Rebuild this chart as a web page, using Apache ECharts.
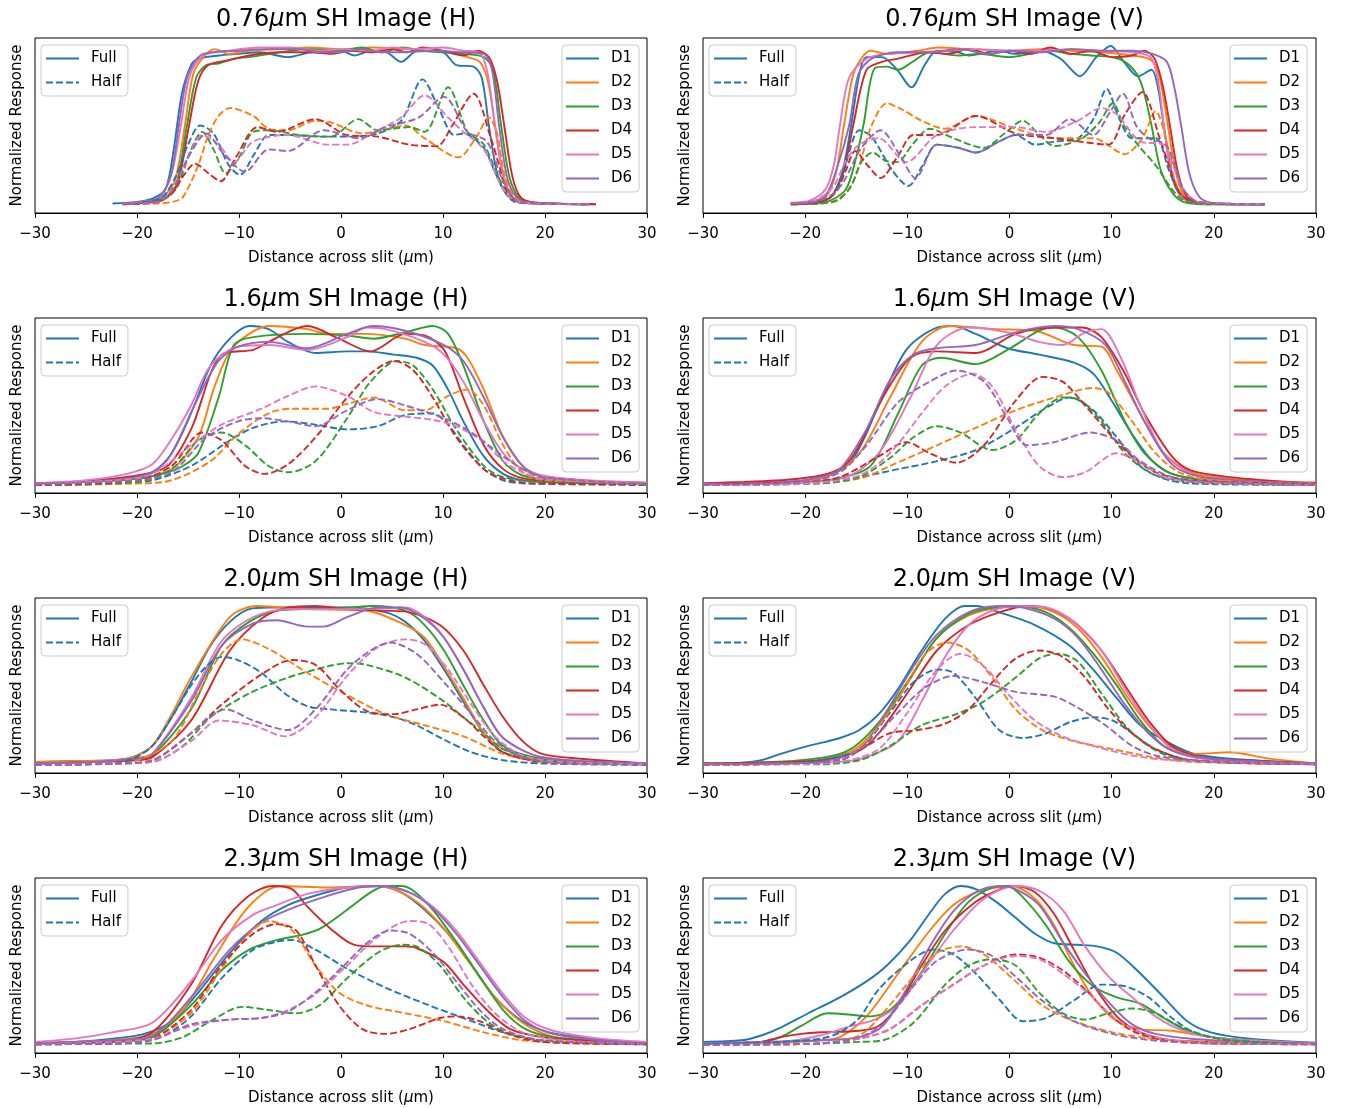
<!DOCTYPE html>
<html>
<head>
<meta charset="utf-8">
<script src="https://cdn.jsdelivr.net/npm/echarts@6/dist/echarts.min.js"></script>
<style>
html,body{margin:0;padding:0;background:#fff;}
#chart{width:1346px;height:1108px;}
</style>
</head>
<body>
<div id="chart"></div>
<script>
// ---------- categories / labels ----------
const detectors = ['D1','D2','D3','D4','D5','D6'];
const colors = ['#1f77b4','#ff7f0e','#2ca02c','#d62728','#e377c2','#9467bd'];
const wavelengths = ['0.76','1.6','2.0','2.3'];
const orients = ['H','V'];
const xTicks = [-30,-20,-10,0,10,20,30];

// ---------- 0.76um H ----------
const full076H = [
 [[-22.4,0.01],[-20,0.02],[-18.5,0.04],[-17.2,0.1],[-16.4,0.35],[-15.6,0.7],[-14.7,0.88],[-14,0.92],[-12,0.94],[-10,0.95],[-8,0.96],[-5.2,0.93],[-3,0.96],[0,0.97],[1.3,0.94],[3,0.97],[4.5,0.96],[5.9,0.9],[7.5,0.97],[10,0.96],[11.3,0.88],[13,0.87],[13.8,0.8],[14.5,0.5],[15.3,0.2],[16.2,0.07],[17.4,0.02],[20,0.01],[24.3,0.005]],
 [[-21.4,0.01],[-19,0.02],[-17.5,0.05],[-16.3,0.15],[-15.3,0.5],[-14.5,0.82],[-13.5,0.93],[-12.4,0.98],[-11,0.95],[-9,0.97],[-6,0.98],[-3,0.99],[0,0.98],[3,0.99],[6,0.98],[9,0.97],[11,0.96],[12.4,0.93],[13.6,0.9],[14.4,0.78],[15.1,0.5],[15.8,0.22],[16.6,0.07],[17.6,0.02],[20,0.01],[24.3,0.005]],
 [[-21.4,0.01],[-19,0.02],[-17.5,0.04],[-16.2,0.12],[-15.1,0.5],[-14.2,0.8],[-13.2,0.88],[-12,0.89],[-10.5,0.92],[-9,0.93],[-6,0.96],[-3,0.98],[0,0.97],[2,0.99],[4,0.96],[6,0.99],[8,0.97],[10,0.96],[12,0.95],[14,0.93],[14.9,0.85],[15.7,0.5],[16.5,0.18],[17.4,0.05],[18.5,0.02],[21,0.01],[24.3,0.005]],
 [[-21.4,0.005],[-19,0.015],[-17.5,0.03],[-16.1,0.12],[-14.9,0.5],[-14,0.78],[-13,0.88],[-11,0.91],[-9,0.94],[-6,0.96],[-3,0.96],[-1,0.95],[1,0.97],[3,0.96],[5,0.98],[6.5,0.96],[8,0.99],[10,0.97],[12,0.94],[13.4,0.97],[14.5,0.93],[15.3,0.78],[16,0.5],[16.8,0.18],[17.6,0.05],[19,0.015],[25,0.005]],
 [[-21.4,0.01],[-19.5,0.02],[-17.8,0.05],[-16.6,0.2],[-15.7,0.5],[-14.8,0.82],[-13.5,0.94],[-11,0.97],[-8,0.99],[-5,0.99],[-2,0.97],[0,0.98],[3,0.97],[5,0.99],[7,0.98],[10,0.99],[12,0.97],[13.5,0.96],[14.3,0.85],[15.1,0.5],[15.9,0.18],[16.8,0.05],[18,0.015],[24.3,0.005]],
 [[-21.4,0.01],[-19.5,0.02],[-17.8,0.05],[-16.7,0.18],[-15.9,0.5],[-15,0.82],[-13.5,0.95],[-10,0.97],[-7,0.98],[-4,0.98],[-2,0.96],[0,0.96],[2,0.98],[4,0.96],[6,0.96],[9,0.97],[12,0.96],[14,0.95],[14.8,0.85],[15.5,0.5],[16.3,0.17],[17.2,0.05],[18.5,0.015],[24.3,0.005]]
];
const half076H = [
 [[-21.4,0.01],[-19,0.02],[-17.5,0.05],[-16.2,0.18],[-15,0.38],[-13.8,0.5],[-12.5,0.45],[-11,0.25],[-9.9,0.19],[-8.5,0.32],[-7.1,0.44],[-5,0.44],[-2,0.43],[0.6,0.43],[3.6,0.45],[5.9,0.53],[8,0.79],[9.5,0.62],[11.1,0.44],[12,0.45],[14,0.36],[15,0.22],[15.9,0.1],[17,0.02],[19,0.01],[24.3,0.005]],
 [[-21.4,0.005],[-18,0.01],[-16.5,0.02],[-15.5,0.05],[-14,0.25],[-13,0.44],[-12,0.56],[-10.9,0.61],[-8.6,0.56],[-7.1,0.48],[-5.2,0.47],[-2.5,0.53],[-1,0.52],[2.1,0.45],[4,0.47],[6.3,0.5],[8.2,0.42],[11.5,0.3],[13.2,0.42],[14.5,0.55],[15.3,0.45],[16,0.2],[17,0.05],[18.5,0.01],[24.3,0.005]],
 [[-21.4,0.01],[-18,0.02],[-16.2,0.1],[-14.7,0.35],[-13.6,0.46],[-12.5,0.35],[-11.3,0.2],[-10,0.3],[-8.6,0.46],[-7.1,0.47],[-4,0.44],[-1,0.43],[1.7,0.54],[3.6,0.47],[6.7,0.49],[8.2,0.46],[10.5,0.74],[12.4,0.46],[14,0.38],[15.9,0.12],[17.4,0.02],[20,0.01],[24.3,0.005]],
 [[-21.4,0.005],[-18,0.02],[-16.5,0.08],[-15.5,0.18],[-14.3,0.26],[-13,0.2],[-11.8,0.15],[-10.3,0.3],[-8.2,0.49],[-6.3,0.46],[-2.5,0.54],[0.6,0.44],[3.6,0.43],[6.7,0.38],[9.4,0.37],[10.9,0.5],[13,0.7],[14.7,0.42],[15.5,0.25],[16.2,0.1],[17.4,0.02],[20,0.01],[25,0.005]],
 [[-21.4,0.01],[-18,0.02],[-16.5,0.1],[-15,0.3],[-13.6,0.44],[-12,0.38],[-10.5,0.27],[-8.6,0.4],[-5.2,0.44],[-1.3,0.38],[0.6,0.38],[3.6,0.47],[5.9,0.55],[8.2,0.69],[10.5,0.55],[12,0.46],[14,0.35],[15.9,0.1],[17.4,0.02],[20,0.01],[24.3,0.005]],
 [[-21.4,0.01],[-18,0.02],[-16.5,0.1],[-14.8,0.32],[-13.2,0.45],[-11.5,0.32],[-9.4,0.21],[-7.1,0.35],[-5.2,0.34],[-1.7,0.47],[1.7,0.42],[4.4,0.49],[7.6,0.55],[10.1,0.68],[12.4,0.46],[14.3,0.4],[15.9,0.15],[17.4,0.02],[20,0.01],[24.3,0.005]]
];

// ---------- 0.76um V ----------
const full076V = [
 [[-21.4,0.01],[-19,0.02],[-17.5,0.05],[-16.4,0.2],[-15.5,0.5],[-14.7,0.82],[-14,0.93],[-12.5,0.93],[-11,0.85],[-9.6,0.74],[-8.3,0.88],[-7.1,0.97],[-5,0.96],[-4,0.94],[-1,0.97],[0.6,0.95],[3,0.97],[5,0.92],[6.9,0.81],[8.5,0.93],[9.9,1.0],[11.2,0.9],[12.6,0.81],[13.9,0.85],[14.5,0.75],[15.1,0.5],[15.9,0.2],[17,0.05],[18.5,0.01],[25,0.005]],
 [[-21.4,0.01],[-19.5,0.02],[-18,0.05],[-17,0.2],[-16.2,0.5],[-15.3,0.82],[-14.4,0.93],[-13.6,0.97],[-12,0.95],[-9,0.97],[-7,0.99],[-4,0.98],[0,0.97],[3,0.98],[6,0.97],[9,0.96],[12,0.94],[13.9,0.91],[14.7,0.8],[15.5,0.5],[16.3,0.2],[17.2,0.05],[19,0.01],[25,0.005]],
 [[-21.4,0.005],[-19,0.01],[-17.5,0.03],[-16,0.1],[-15,0.3],[-14.3,0.5],[-13.2,0.86],[-12,0.87],[-10.9,0.85],[-9.5,0.9],[-7.8,0.96],[-5,0.94],[-3,0.95],[0,0.93],[2,0.95],[4,0.97],[6,0.95],[8,0.94],[10,0.93],[11.3,0.9],[12.5,0.82],[13.2,0.7],[13.9,0.5],[14.8,0.22],[15.9,0.08],[17,0.02],[19,0.005],[25,0.005]],
 [[-21.4,0.01],[-19,0.02],[-17.5,0.05],[-16.3,0.2],[-15.3,0.5],[-14,0.85],[-12.5,0.9],[-10.9,0.92],[-8,0.96],[-6,0.95],[-4,0.98],[-2,0.95],[0,0.97],[2,0.95],[4,0.99],[6,0.95],[8,0.97],[10,0.93],[12,0.94],[13.2,0.97],[14.2,0.92],[15,0.75],[15.7,0.5],[16.5,0.2],[17.4,0.05],[19,0.01],[25,0.005]],
 [[-21.4,0.015],[-19.5,0.03],[-18,0.1],[-17.2,0.25],[-16.6,0.5],[-15.7,0.8],[-14,0.92],[-12,0.95],[-9,0.96],[-6,0.97],[-3,0.98],[0,0.97],[3,0.97],[6,0.98],[9,0.97],[12,0.96],[13.8,0.93],[14.5,0.8],[15.1,0.5],[15.8,0.2],[16.8,0.05],[18.5,0.01],[25,0.005]],
 [[-21.4,0.01],[-19.5,0.02],[-18,0.06],[-16.8,0.25],[-15.7,0.5],[-14.8,0.82],[-13.5,0.92],[-11,0.96],[-8,0.96],[-5,0.98],[-2,0.95],[0,0.97],[3,0.96],[6,0.98],[9,0.97],[12,0.97],[14,0.95],[15.4,0.9],[16.1,0.75],[16.8,0.5],[17.6,0.2],[18.6,0.05],[20,0.01],[25,0.005]]
];
const half076V = [
 [[-21.4,0.005],[-19,0.02],[-17.5,0.05],[-16.3,0.2],[-14.7,0.47],[-13.5,0.43],[-11.5,0.22],[-9.9,0.12],[-8.5,0.25],[-7.1,0.38],[-5,0.36],[-3.3,0.33],[-1,0.4],[0.6,0.44],[2.5,0.38],[4.5,0.4],[6.7,0.42],[8.3,0.55],[9.5,0.73],[10.7,0.55],[12,0.42],[14.3,0.42],[15.6,0.22],[16.6,0.08],[18,0.02],[25,0.005]],
 [[-21.4,0.005],[-18.5,0.01],[-17,0.03],[-15.7,0.1],[-14.7,0.25],[-13.5,0.5],[-12,0.64],[-10.5,0.6],[-8.6,0.53],[-6.3,0.48],[-3.3,0.56],[0.6,0.48],[4.4,0.42],[8.2,0.42],[11.3,0.32],[13,0.42],[14.3,0.59],[15.3,0.42],[16.2,0.15],[17.4,0.03],[19,0.01],[25,0.005]],
 [[-21.4,0.005],[-18.5,0.01],[-16.8,0.03],[-15.5,0.12],[-14.5,0.27],[-13.4,0.33],[-12.2,0.28],[-11,0.27],[-9.5,0.38],[-7.8,0.48],[-5.5,0.42],[-2.5,0.36],[-0.5,0.45],[1.3,0.53],[2.8,0.45],[4.4,0.37],[7.1,0.42],[8.8,0.52],[10.1,0.64],[11.2,0.5],[12.8,0.36],[14.3,0.25],[15.9,0.1],[17,0.03],[19,0.005],[25,0.005]],
 [[-21.4,0.005],[-18.5,0.02],[-17,0.08],[-16,0.22],[-15.1,0.34],[-13.9,0.25],[-12.6,0.17],[-11,0.3],[-9.4,0.44],[-7.1,0.44],[-3.3,0.56],[0.6,0.45],[4.4,0.42],[6.7,0.4],[9.7,0.38],[11.3,0.57],[13,0.71],[14.7,0.42],[15.6,0.25],[16.6,0.08],[18,0.02],[25,0.005]],
 [[-21.4,0.01],[-19,0.03],[-17.2,0.12],[-16,0.28],[-14.7,0.38],[-12.8,0.42],[-10.1,0.27],[-7.1,0.44],[-3.3,0.49],[0.6,0.49],[3.6,0.46],[6.7,0.53],[9,0.61],[10.5,0.57],[12.8,0.4],[15.1,0.38],[16,0.25],[17,0.1],[18.5,0.02],[25,0.005]],
 [[-21.4,0.01],[-19,0.02],[-17.3,0.07],[-16.2,0.15],[-14.5,0.36],[-12.6,0.47],[-10.8,0.32],[-9.2,0.17],[-7.1,0.38],[-5,0.36],[-3.3,0.33],[-1,0.4],[0.6,0.44],[3.6,0.44],[5.9,0.54],[8.2,0.44],[9.8,0.58],[11.1,0.7],[12.4,0.5],[13.6,0.42],[15.3,0.38],[16.3,0.22],[17,0.1],[18.5,0.02],[25,0.005]]
];

// ---------- 1.6um H ----------
const full16H = [
 [[-30,0.01],[-25,0.02],[-20.4,0.05],[-18.5,0.08],[-16.6,0.2],[-14.7,0.45],[-12.8,0.75],[-10.9,0.92],[-9,1.0],[-7.1,0.98],[-5.2,0.9],[-2.5,0.83],[0.6,0.84],[2.5,0.84],[5.2,0.82],[7.4,0.8],[9,0.75],[10.5,0.6],[12,0.4],[14,0.18],[15.9,0.07],[17.8,0.03],[22,0.015],[30,0.01]],
 [[-30,0.01],[-25,0.02],[-20,0.04],[-16.6,0.1],[-14,0.3],[-12.5,0.6],[-10.9,0.84],[-9,0.95],[-7.1,1.0],[-3.3,0.98],[-1.3,0.95],[2.5,0.95],[6.3,0.92],[8.2,0.88],[11.3,0.86],[12.4,0.8],[14,0.6],[15.9,0.3],[17.8,0.12],[19.7,0.06],[23.5,0.03],[30,0.015]],
 [[-30,0.01],[-25,0.02],[-20,0.04],[-17,0.08],[-15.5,0.12],[-14,0.2],[-12,0.55],[-10.5,0.88],[-8.6,0.93],[-3.3,0.95],[0.6,0.94],[3.2,0.92],[6.3,0.96],[9,1.0],[10.5,0.95],[12,0.75],[14,0.4],[15.9,0.15],[17.8,0.06],[21,0.03],[30,0.01]],
 [[-30,0.01],[-25,0.025],[-20,0.06],[-17,0.12],[-14.7,0.35],[-11.7,0.82],[-8.6,0.85],[-7.1,0.9],[-3.3,1.0],[-0.2,0.92],[2.9,0.84],[6.3,0.95],[8.2,0.94],[10.1,0.85],[12,0.55],[14,0.25],[15.9,0.1],[18,0.04],[22,0.02],[30,0.01]],
 [[-30,0.01],[-25,0.03],[-21,0.07],[-18.5,0.13],[-16.5,0.3],[-14.7,0.5],[-12.8,0.75],[-10.1,0.87],[-7.1,0.88],[-3.3,0.85],[0.6,0.93],[2.5,0.99],[4.4,0.98],[8.2,0.9],[10.1,0.82],[12,0.65],[14,0.4],[15.9,0.2],[17.8,0.1],[19.7,0.06],[24,0.03],[30,0.015]],
 [[-30,0.01],[-25,0.02],[-20,0.05],[-18,0.1],[-16.6,0.2],[-14,0.55],[-12,0.78],[-10.1,0.87],[-7.1,0.9],[-3.3,0.86],[0.6,0.95],[3.2,1.0],[6.3,0.97],[10.1,0.88],[12,0.78],[14,0.55],[15.9,0.3],[17.8,0.12],[19.7,0.05],[24,0.02],[30,0.01]]
];
const half16H = [
 [[-30,0.0],[-22,0.01],[-18.5,0.03],[-14.7,0.12],[-10.9,0.28],[-8.6,0.36],[-5.5,0.4],[-2.5,0.38],[0.6,0.35],[3.6,0.37],[6.3,0.44],[9,0.45],[10.5,0.38],[12,0.25],[14,0.1],[15.9,0.03],[18,0.01],[30,0.0]],
 [[-30,0.0],[-20,0.01],[-16.6,0.03],[-12.8,0.15],[-10.1,0.32],[-7.1,0.45],[-4.8,0.48],[-1.3,0.48],[0.6,0.51],[3.2,0.55],[6.3,0.47],[8.2,0.47],[10.5,0.56],[12.4,0.6],[14,0.5],[15.9,0.25],[17.8,0.08],[20,0.03],[30,0.01]],
 [[-30,0.0],[-20,0.02],[-16.6,0.1],[-14,0.28],[-11.7,0.33],[-9.4,0.25],[-7.1,0.12],[-5.2,0.08],[-2.5,0.15],[0.6,0.42],[2.9,0.65],[5.5,0.78],[7.1,0.75],[9,0.6],[11.3,0.35],[14,0.12],[15.9,0.05],[19.7,0.02],[30,0.005]],
 [[-30,0.0],[-20,0.03],[-16.6,0.12],[-13.6,0.33],[-11.7,0.28],[-9.4,0.12],[-7.5,0.07],[-5.2,0.13],[-2.5,0.3],[0.6,0.55],[2.9,0.7],[5.2,0.78],[7.1,0.72],[9,0.55],[11.3,0.3],[14,0.1],[15.9,0.04],[19,0.01],[30,0.005]],
 [[-30,0.005],[-22,0.03],[-18.5,0.07],[-14.7,0.25],[-11.7,0.38],[-7.8,0.48],[-5.2,0.56],[-2.5,0.62],[0.6,0.56],[3.2,0.46],[6.3,0.43],[9,0.41],[11.3,0.37],[14,0.27],[15.9,0.15],[17.8,0.08],[19.7,0.04],[30,0.005]],
 [[-30,0.005],[-20,0.03],[-16.6,0.08],[-13.2,0.3],[-10.1,0.4],[-7.8,0.42],[-5.2,0.4],[-2.5,0.37],[0.6,0.47],[3.6,0.54],[6.3,0.5],[10.1,0.42],[12.8,0.33],[15.9,0.18],[17.8,0.1],[19.7,0.05],[30,0.005]]
];

// ---------- 1.6um V ----------
const full16V = [
 [[-30,0.01],[-22,0.02],[-18.5,0.04],[-15.5,0.15],[-12.8,0.5],[-10.1,0.85],[-7.1,0.99],[-5.5,1.0],[-3.3,0.95],[-0.2,0.86],[2.9,0.82],[6.3,0.77],[8.2,0.7],[10.1,0.52],[12,0.32],[14,0.15],[15.9,0.07],[19.7,0.03],[30,0.01]],
 [[-30,0.01],[-22,0.02],[-18,0.05],[-14.7,0.2],[-11.7,0.55],[-8.6,0.9],[-5.9,1.0],[-1.3,0.98],[2.5,0.97],[6.3,0.88],[9,0.87],[10.5,0.72],[12.8,0.45],[15.1,0.2],[17.8,0.08],[21.6,0.04],[27.3,0.02],[30,0.015]],
 [[-30,0.005],[-22,0.01],[-17,0.04],[-13.6,0.12],[-10.9,0.45],[-8.6,0.75],[-6.7,0.8],[-3.3,0.76],[-0.2,0.85],[2.9,0.97],[4.4,0.99],[6.7,0.93],[9,0.72],[11.3,0.4],[13.2,0.2],[15.9,0.07],[19.7,0.03],[30,0.01]],
 [[-30,0.01],[-26,0.02],[-22.4,0.03],[-18.5,0.06],[-16.2,0.12],[-14.7,0.25],[-12.4,0.55],[-9.7,0.8],[-7.1,0.84],[-3.3,0.83],[0.6,0.95],[4.4,0.99],[7.1,0.99],[9,0.93],[11.3,0.7],[13.2,0.45],[15.9,0.18],[17.8,0.09],[21.6,0.05],[27.3,0.02],[30,0.015]],
 [[-30,0.005],[-22,0.01],[-16,0.05],[-12.8,0.2],[-9.7,0.55],[-7.1,0.88],[-4,0.99],[-0.2,0.96],[2.9,0.9],[5.2,0.88],[7.4,0.96],[9,0.98],[10.9,0.8],[12.8,0.5],[15.1,0.2],[17.8,0.07],[21,0.03],[30,0.01]],
 [[-30,0.005],[-22,0.02],[-18.5,0.05],[-16.6,0.1],[-14,0.35],[-11.7,0.66],[-9.4,0.82],[-7.1,0.86],[-3.3,0.88],[0.6,0.96],[4.4,1.0],[6.7,0.98],[9.4,0.88],[11.3,0.65],[13.2,0.4],[15.9,0.13],[18.9,0.05],[30,0.01]]
];
const half16V = [
 [[-30,0.0],[-20,0.01],[-18.5,0.02],[-14.7,0.05],[-10.9,0.1],[-7.1,0.15],[-3.3,0.22],[0.6,0.36],[3.2,0.47],[5.9,0.55],[8.2,0.47],[10.5,0.3],[12.8,0.12],[15.1,0.04],[17.8,0.01],[30,0.0]],
 [[-30,0.0],[-20,0.01],[-14.7,0.04],[-11.7,0.12],[-7.1,0.25],[-3.3,0.36],[0.6,0.47],[4.4,0.55],[8.2,0.61],[9.7,0.58],[12,0.4],[14.3,0.2],[16.6,0.08],[19.7,0.03],[30,0.005]],
 [[-30,0.0],[-18.5,0.01],[-14.7,0.05],[-11.7,0.17],[-9.4,0.3],[-7.1,0.37],[-4.8,0.33],[-1.7,0.22],[0.6,0.28],[2.9,0.45],[5.2,0.55],[6.7,0.54],[9,0.4],[11.3,0.2],[14,0.07],[17.8,0.02],[30,0.0]],
 [[-30,0.0],[-20,0.02],[-16.6,0.05],[-12.8,0.18],[-10.1,0.27],[-7.8,0.2],[-5.2,0.14],[-2.5,0.25],[0.6,0.53],[3.2,0.68],[5.2,0.65],[7.4,0.5],[10.1,0.3],[12,0.18],[14.3,0.08],[17.8,0.03],[30,0.005]],
 [[-30,0.0],[-20,0.01],[-14.7,0.06],[-11.7,0.2],[-8.6,0.45],[-6.3,0.62],[-3.6,0.7],[-1.7,0.62],[0.6,0.35],[2.9,0.12],[5.2,0.05],[7.4,0.08],[10.5,0.2],[12.8,0.14],[15.1,0.05],[17.8,0.02],[30,0.0]],
 [[-30,0.0],[-20,0.02],[-16.6,0.08],[-14,0.25],[-10.9,0.52],[-7.8,0.65],[-5.2,0.72],[-2.5,0.65],[-0.2,0.42],[1.7,0.25],[4.4,0.27],[7.9,0.33],[10.5,0.28],[12.8,0.15],[15.9,0.05],[19.7,0.02],[30,0.0]]
];

// ---------- 2.0um H ----------
const full20H = [
 [[-30,0.02],[-26,0.025],[-22.4,0.03],[-20.4,0.05],[-18.5,0.12],[-16.6,0.3],[-14.7,0.52],[-12.8,0.75],[-10.9,0.9],[-9,0.98],[-7.1,0.99],[-3.3,0.99],[0.6,0.99],[4.4,0.96],[6.3,0.9],[8.2,0.78],[10.1,0.6],[12,0.4],[14,0.2],[15.9,0.08],[19.7,0.03],[30,0.01]],
 [[-30,0.02],[-26,0.025],[-22.4,0.03],[-20.4,0.05],[-18.5,0.12],[-16.6,0.32],[-14.7,0.55],[-10.9,0.93],[-8.2,1.0],[-3.3,0.98],[2.5,0.97],[6.3,0.88],[8.2,0.8],[10.1,0.62],[12,0.42],[14,0.2],[15.9,0.1],[19.7,0.04],[30,0.01]],
 [[-30,0.01],[-24,0.02],[-20.4,0.03],[-18.5,0.06],[-14.7,0.35],[-11.7,0.75],[-9,0.9],[-6.3,0.97],[-3.3,0.98],[0.6,0.99],[3.2,1.0],[6.3,0.97],[8.2,0.88],[10.1,0.72],[12,0.5],[14,0.28],[15.9,0.12],[19.7,0.04],[30,0.01]],
 [[-30,0.01],[-24,0.02],[-20.4,0.03],[-18.5,0.05],[-14.7,0.28],[-10.9,0.72],[-7.8,0.92],[-5.2,0.99],[-2.5,1.0],[0.6,0.98],[4.4,0.97],[6.7,0.96],[9.7,0.88],[12,0.72],[14,0.5],[15.9,0.3],[17.8,0.15],[19.7,0.07],[23.5,0.04],[30,0.01]],
 [[-30,0.01],[-24,0.02],[-20.4,0.04],[-18.5,0.07],[-14.7,0.42],[-11.7,0.78],[-8.6,0.93],[-5.2,0.98],[-1.3,0.98],[2.5,0.98],[6.3,0.99],[8.2,0.93],[10.1,0.8],[12,0.6],[14,0.36],[15.9,0.17],[19.7,0.05],[30,0.01]],
 [[-30,0.01],[-24,0.02],[-20.4,0.04],[-18.5,0.07],[-14.7,0.4],[-11.7,0.75],[-8.6,0.89],[-6.3,0.91],[-3.3,0.87],[-1.7,0.87],[0.6,0.93],[3.6,0.99],[5.9,0.99],[8.2,0.92],[10.1,0.8],[12,0.6],[14,0.36],[15.9,0.17],[19.7,0.05],[30,0.01]]
];
const half20H = [
 [[-30,0.0],[-22.4,0.01],[-20.4,0.04],[-18.5,0.12],[-16.6,0.3],[-14.7,0.5],[-13.2,0.62],[-11.7,0.68],[-10.1,0.66],[-7.8,0.58],[-5.5,0.45],[-3.3,0.37],[-1,0.35],[2.5,0.33],[5.2,0.3],[7.4,0.25],[10.1,0.16],[12.8,0.08],[15.9,0.03],[19.7,0.01],[30,0.0]],
 [[-30,0.0],[-22,0.01],[-20.4,0.02],[-16.6,0.15],[-14,0.45],[-11.7,0.7],[-9.7,0.79],[-7.1,0.73],[-3.3,0.58],[0.6,0.44],[4.4,0.32],[8.2,0.25],[12,0.18],[15.9,0.07],[19.7,0.02],[30,0.005]],
 [[-30,0.0],[-22,0.01],[-18.5,0.02],[-15.5,0.12],[-12.8,0.3],[-9,0.45],[-5.2,0.55],[-1.3,0.62],[0.6,0.64],[2.5,0.63],[6.3,0.55],[10.1,0.4],[12,0.3],[14,0.2],[15.9,0.1],[19.7,0.03],[30,0.005]],
 [[-30,0.0],[-22,0.01],[-18.5,0.03],[-14.7,0.2],[-11.7,0.38],[-7.8,0.57],[-4.8,0.66],[-2.5,0.63],[-0.2,0.48],[2.5,0.34],[5.2,0.32],[7.4,0.35],[9.7,0.38],[12,0.3],[14,0.18],[15.9,0.08],[19.7,0.02],[30,0.005]],
 [[-30,0.0],[-22,0.01],[-18.5,0.02],[-14.7,0.15],[-12,0.28],[-8.6,0.25],[-5.5,0.18],[-2.5,0.3],[0.6,0.56],[3.6,0.74],[6.3,0.79],[8.2,0.76],[10.5,0.6],[12.8,0.38],[15.1,0.18],[17.8,0.06],[21.6,0.02],[30,0.005]],
 [[-30,0.0],[-22,0.01],[-18.5,0.03],[-14.7,0.2],[-11.3,0.35],[-8.6,0.28],[-5.2,0.22],[-2.5,0.35],[0.6,0.6],[2.9,0.72],[4.8,0.77],[7.4,0.7],[10.1,0.52],[12.8,0.32],[15.1,0.15],[17.8,0.05],[22,0.01],[30,0.005]]
];

// ---------- 2.0um V ----------
const full20V = [
 [[-30,0.01],[-26.2,0.015],[-24.3,0.03],[-22.4,0.07],[-19.7,0.12],[-16.6,0.17],[-14.7,0.22],[-12.8,0.32],[-10.9,0.48],[-8.6,0.72],[-6.3,0.92],[-4.4,1.0],[-3.3,1.0],[-1,0.96],[2.5,0.88],[5.9,0.75],[8.2,0.6],[10.5,0.42],[12.8,0.25],[15.9,0.13],[18.1,0.07],[21.6,0.04],[30,0.01]],
 [[-30,0.01],[-25,0.015],[-20.4,0.02],[-16.6,0.06],[-14.7,0.12],[-12.8,0.25],[-10.1,0.5],[-7.1,0.8],[-4,0.94],[-1,0.99],[1.7,1.0],[4.4,0.96],[6.7,0.86],[9,0.68],[11.3,0.45],[13.6,0.25],[15.9,0.11],[18.1,0.07],[21.6,0.08],[25.4,0.04],[30,0.01]],
 [[-30,0.01],[-25,0.015],[-20.4,0.03],[-16.6,0.07],[-14.7,0.14],[-12.4,0.3],[-9.7,0.55],[-7.1,0.8],[-4,0.95],[-1.7,0.99],[0.6,1.0],[3.6,0.96],[5.9,0.86],[8.2,0.7],[10.5,0.5],[12.8,0.28],[15.1,0.12],[18.1,0.05],[22,0.03],[30,0.01]],
 [[-30,0.01],[-24,0.015],[-18.5,0.03],[-14.7,0.09],[-12.8,0.2],[-9.7,0.48],[-7.1,0.72],[-4,0.88],[-1,0.96],[1.7,1.0],[3.6,0.99],[6.3,0.9],[9,0.72],[11.3,0.5],[13.6,0.28],[15.9,0.12],[18.9,0.05],[23,0.03],[30,0.01]],
 [[-30,0.005],[-22,0.01],[-16.6,0.02],[-14,0.05],[-10.9,0.15],[-8.6,0.4],[-6.3,0.68],[-4,0.88],[-1.7,0.97],[0.6,1.0],[3.6,0.99],[6.3,0.9],[9,0.72],[11.3,0.48],[13.6,0.26],[15.9,0.1],[18.9,0.04],[30,0.01]],
 [[-30,0.005],[-22,0.01],[-18.5,0.02],[-14.7,0.1],[-12.4,0.3],[-9.4,0.62],[-7.1,0.82],[-4,0.96],[-1,1.0],[1.3,0.99],[4.4,0.92],[6.7,0.8],[9,0.6],[11.3,0.38],[13.6,0.2],[15.9,0.09],[19.7,0.04],[30,0.01]]
];
const half20V = [
 [[-30,0.0],[-22,0.01],[-18.5,0.03],[-14.7,0.1],[-11.7,0.33],[-9.4,0.52],[-7.1,0.6],[-5.5,0.58],[-3.3,0.42],[-1,0.22],[1.3,0.17],[3.6,0.2],[5.9,0.27],[8.2,0.3],[10.1,0.28],[12,0.2],[14.3,0.1],[17.8,0.03],[30,0.005]],
 [[-30,0.0],[-22,0.01],[-16.6,0.03],[-14,0.15],[-10.9,0.42],[-8.2,0.7],[-6.1,0.77],[-4,0.72],[-1.7,0.55],[0.6,0.35],[3.2,0.22],[6.3,0.15],[10.1,0.1],[14,0.05],[17.8,0.02],[30,0.005]],
 [[-30,0.0],[-22,0.005],[-18.5,0.005],[-14.7,0.03],[-11.7,0.12],[-8.6,0.25],[-5.2,0.32],[-2.5,0.4],[0.6,0.55],[2.9,0.67],[4.8,0.7],[6.7,0.65],[9,0.45],[11.3,0.25],[13.6,0.12],[15.9,0.05],[19.7,0.02],[30,0.005]],
 [[-30,0.0],[-22,0.01],[-16.6,0.03],[-14,0.12],[-11.7,0.2],[-9,0.22],[-6.3,0.26],[-4,0.35],[-1.7,0.52],[0.6,0.67],[2.9,0.72],[5.2,0.68],[7.4,0.55],[9.7,0.35],[12,0.2],[14.3,0.1],[17.8,0.03],[30,0.005]],
 [[-30,0.0],[-22,0.005],[-16.6,0.02],[-12.8,0.1],[-10.1,0.32],[-7.1,0.6],[-4.8,0.7],[-2.5,0.62],[-0.2,0.45],[2.5,0.28],[5.2,0.18],[8.2,0.12],[12,0.06],[15.9,0.03],[30,0.005]],
 [[-30,0.0],[-22,0.01],[-16.6,0.03],[-13.6,0.15],[-10.9,0.33],[-8.2,0.49],[-5.5,0.56],[-2.5,0.52],[0.6,0.46],[4.4,0.43],[6.7,0.36],[9.4,0.25],[12,0.12],[14.3,0.06],[17.8,0.03],[30,0.005]]
];

// ---------- 2.3um H ----------
const full23H = [
 [[-30,0.015],[-26.2,0.02],[-22.4,0.04],[-19.3,0.07],[-16.6,0.15],[-14,0.33],[-10.9,0.58],[-7.8,0.78],[-5.2,0.88],[-2.5,0.94],[0.6,0.99],[3.6,1.0],[5.9,0.96],[8.2,0.85],[10.5,0.7],[12.8,0.5],[15.1,0.3],[17.8,0.15],[20.4,0.08],[23.5,0.05],[30,0.01]],
 [[-30,0.01],[-26,0.02],[-22.4,0.03],[-18.5,0.07],[-15.5,0.22],[-12.4,0.55],[-9.7,0.82],[-7.5,0.96],[-5.9,1.0],[-1.3,0.99],[3.6,1.0],[5.9,0.96],[8.2,0.86],[10.5,0.7],[12.8,0.5],[15.1,0.3],[17.8,0.14],[20.4,0.06],[23.5,0.03],[30,0.01]],
 [[-30,0.01],[-26,0.015],[-22.4,0.02],[-18.5,0.05],[-14.7,0.25],[-11.7,0.47],[-9,0.6],[-6.3,0.66],[-4,0.69],[-2.1,0.73],[0.6,0.85],[2.9,0.96],[4.4,1.0],[5.9,1.0],[7.1,0.97],[9,0.85],[11.3,0.65],[13.6,0.43],[15.9,0.22],[18.1,0.1],[20.8,0.05],[25.4,0.03],[30,0.01]],
 [[-30,0.01],[-26,0.015],[-22.4,0.02],[-18.5,0.08],[-14.7,0.38],[-11.7,0.75],[-9,0.94],[-6.7,1.0],[-4.8,0.98],[-3.3,0.87],[-1,0.73],[1.3,0.63],[3.6,0.62],[6.3,0.62],[7.4,0.61],[10.1,0.52],[12,0.38],[14.3,0.22],[16.6,0.1],[19.7,0.05],[23.5,0.03],[30,0.01]],
 [[-30,0.02],[-26.2,0.04],[-22.4,0.08],[-18.5,0.14],[-14.7,0.4],[-11.7,0.66],[-8.6,0.82],[-6.3,0.88],[-3.3,0.95],[0.6,0.99],[3.6,1.0],[6.7,0.96],[9,0.87],[11.3,0.72],[13.6,0.52],[15.9,0.32],[18.1,0.17],[20.8,0.09],[25.4,0.04],[30,0.02]],
 [[-30,0.01],[-26,0.02],[-22.4,0.03],[-18.5,0.06],[-14.7,0.3],[-10.9,0.6],[-7.8,0.77],[-5.2,0.85],[-1.7,0.93],[1.7,0.99],[4,1.0],[6.7,0.96],[9,0.86],[11.3,0.7],[13.6,0.5],[15.9,0.3],[18.1,0.15],[20.8,0.07],[25.4,0.03],[30,0.01]]
];
const half23H = [
 [[-30,0.005],[-24,0.01],[-20.4,0.02],[-17.4,0.06],[-14.7,0.18],[-11.7,0.42],[-8.6,0.6],[-6.3,0.65],[-4.8,0.66],[-2.5,0.6],[0.6,0.48],[4.4,0.36],[8.2,0.26],[12,0.17],[15.9,0.08],[19.7,0.03],[30,0.005]],
 [[-30,0.005],[-22,0.01],[-18.5,0.04],[-14.7,0.2],[-11.7,0.48],[-9,0.7],[-7.1,0.78],[-4.8,0.72],[-2.5,0.5],[-0.2,0.33],[2.5,0.25],[6.3,0.2],[10.1,0.15],[14,0.08],[17.8,0.03],[23.5,0.01],[30,0.005]],
 [[-30,0.005],[-22,0.01],[-18.5,0.01],[-15.5,0.05],[-12.8,0.15],[-9.7,0.24],[-7.1,0.22],[-4.4,0.2],[-2.1,0.25],[0.6,0.42],[3.6,0.58],[5.9,0.63],[7.4,0.62],[9.7,0.5],[12,0.3],[14.3,0.15],[16.6,0.07],[19.7,0.03],[30,0.005]],
 [[-30,0.005],[-22,0.01],[-18.5,0.04],[-14.7,0.22],[-11.7,0.5],[-8.6,0.7],[-6.3,0.76],[-4.4,0.72],[-2.5,0.5],[-0.2,0.25],[2.1,0.1],[4.4,0.07],[6.7,0.1],[9.7,0.17],[11.3,0.18],[13.6,0.15],[15.9,0.08],[19.7,0.02],[30,0.005]],
 [[-30,0.005],[-26.2,0.01],[-22,0.02],[-18.5,0.04],[-14.7,0.12],[-10.9,0.16],[-7.8,0.17],[-5.2,0.22],[-2.5,0.32],[0.6,0.5],[3.6,0.68],[6.7,0.78],[8.6,0.76],[10.5,0.62],[12.8,0.38],[15.1,0.2],[17.8,0.08],[21.6,0.03],[30,0.005]],
 [[-30,0.005],[-22,0.01],[-18.5,0.03],[-14.7,0.13],[-10.9,0.16],[-7.8,0.17],[-5.2,0.21],[-2.5,0.33],[0.6,0.52],[2.9,0.66],[4.8,0.72],[6.7,0.7],[9,0.58],[11.3,0.4],[13.6,0.22],[15.9,0.1],[19.7,0.03],[30,0.005]]
];

// ---------- 2.3um V ----------
const full23V = [
 [[-30,0.02],[-26.2,0.03],[-24.3,0.06],[-22.4,0.11],[-19.7,0.2],[-16.6,0.3],[-14,0.4],[-12,0.5],[-9.7,0.66],[-7.8,0.83],[-6.3,0.95],[-4.8,1.0],[-3.3,0.98],[-1.3,0.9],[0.6,0.8],[2.5,0.7],[4.4,0.64],[6.7,0.63],[8.6,0.62],[10.5,0.58],[12.8,0.45],[15.1,0.3],[17.4,0.15],[19.7,0.08],[23.5,0.04],[30,0.015]],
 [[-30,0.01],[-24,0.01],[-20.4,0.02],[-18.5,0.03],[-16.6,0.05],[-14,0.18],[-10.9,0.45],[-7.8,0.72],[-5.5,0.88],[-3.3,0.96],[-1.3,0.99],[0.2,1.0],[2.5,0.92],[4.4,0.75],[6.3,0.5],[8.2,0.3],[10.5,0.15],[12.8,0.1],[15.9,0.09],[19.7,0.05],[23.5,0.03],[30,0.01]],
 [[-30,0.01],[-26,0.015],[-24.3,0.02],[-22.4,0.05],[-20.4,0.12],[-17.8,0.2],[-15.5,0.19],[-13.6,0.18],[-11.7,0.22],[-9,0.42],[-6.3,0.7],[-4,0.9],[-1.7,0.99],[-0.2,1.0],[1.3,0.93],[3.6,0.75],[5.9,0.52],[8.2,0.37],[10.5,0.3],[12.8,0.26],[15.1,0.17],[17.4,0.09],[19.7,0.05],[23.5,0.03],[30,0.01]],
 [[-30,0.01],[-26,0.015],[-24.3,0.02],[-22.4,0.05],[-20.4,0.07],[-18.5,0.08],[-14.7,0.09],[-12.8,0.12],[-10.9,0.25],[-8.6,0.5],[-6.3,0.72],[-3.3,0.9],[-0.9,0.98],[0.6,1.0],[2.5,0.96],[4.4,0.82],[6.3,0.6],[8.2,0.38],[10.5,0.18],[12.8,0.08],[15.9,0.03],[19.7,0.02],[30,0.01]],
 [[-30,0.01],[-26,0.015],[-22.4,0.02],[-18.5,0.06],[-15.5,0.12],[-13.2,0.16],[-10.9,0.25],[-8.6,0.45],[-5.5,0.72],[-2.5,0.92],[0.6,1.0],[2.9,0.97],[5.2,0.85],[7.4,0.62],[9.7,0.43],[12,0.3],[14.3,0.18],[16.6,0.1],[19.7,0.05],[23.5,0.03],[30,0.01]],
 [[-30,0.01],[-24,0.02],[-18.5,0.03],[-14.7,0.05],[-12.4,0.12],[-10.1,0.35],[-7.8,0.62],[-5.5,0.84],[-3.3,0.96],[-0.9,1.0],[0.6,0.98],[2.9,0.88],[5.2,0.65],[7.4,0.45],[9.7,0.27],[12,0.13],[14.3,0.07],[17.8,0.04],[23.5,0.02],[30,0.01]]
];
const half23V = [
 [[-30,0.005],[-22.4,0.02],[-18.5,0.04],[-16.6,0.08],[-14.7,0.17],[-12.8,0.35],[-9.7,0.53],[-7.5,0.6],[-5.5,0.57],[-3.3,0.45],[-0.9,0.28],[1.3,0.15],[3.6,0.17],[6.3,0.28],[9,0.38],[11.3,0.37],[13.6,0.3],[15.9,0.17],[18.1,0.08],[21.6,0.03],[30,0.005]],
 [[-30,0.0],[-22,0.005],[-18.5,0.01],[-14.7,0.06],[-12.4,0.2],[-9.4,0.43],[-7.1,0.58],[-4.8,0.62],[-2.5,0.57],[0.6,0.4],[3.2,0.25],[6.3,0.15],[10.1,0.08],[14,0.04],[19.7,0.02],[30,0.005]],
 [[-30,0.0],[-22,0.005],[-18.5,0.01],[-14.7,0.02],[-12.4,0.03],[-9.4,0.14],[-6.3,0.38],[-4,0.5],[-1.7,0.54],[0.6,0.5],[2.9,0.33],[5.2,0.2],[7.4,0.16],[9.7,0.2],[12,0.23],[14.3,0.2],[16.6,0.12],[19.7,0.05],[23.5,0.02],[30,0.005]],
 [[-30,0.0],[-22,0.005],[-18.5,0.01],[-14.7,0.04],[-11.7,0.1],[-8.6,0.25],[-5.5,0.38],[-2.5,0.5],[0.6,0.57],[2.9,0.55],[5.2,0.47],[7.4,0.35],[9.7,0.2],[12,0.09],[15.1,0.03],[19.7,0.01],[30,0.005]],
 [[-30,0.0],[-22,0.005],[-18.5,0.01],[-14.7,0.04],[-11.7,0.1],[-8.6,0.25],[-5.5,0.38],[-2.5,0.5],[0.6,0.56],[2.9,0.54],[5.2,0.45],[7.8,0.32],[10.1,0.18],[12.8,0.08],[15.9,0.03],[19.7,0.01],[30,0.005]],
 [[-30,0.0],[-22,0.005],[-18.5,0.01],[-14.7,0.05],[-12.4,0.13],[-9.4,0.37],[-7.1,0.53],[-4,0.6],[-1.7,0.56],[0.6,0.43],[3.2,0.28],[6.3,0.15],[10.1,0.07],[14,0.03],[19.7,0.01],[30,0.005]]
];

// ---------- layout ----------
const panelFull = [full076H, full076V, full16H, full16V, full20H, full20V, full23H, full23V];
const panelHalf = [half076H, half076V, half16H, half16V, half20H, half20V, half23H, half23V];
const FONT = 'DejaVu Sans';
const colLeft = [35, 703], colWidth = [612, 613];
const rowTop = [38, 318, 598, 878];
const plotH = 175;
const SMOOTH = 0.3;
const LW = 1.9;

const grids = [], xAxes = [], yAxes = [], titles = [], legends = [], series = [];
// proxy series for the Full/Half legend
series.push({type:'line', name:'Full', data:[], symbol:'none', xAxisIndex:0, yAxisIndex:0,
  lineStyle:{color:colors[0], width:LW, type:'solid'}, itemStyle:{color:colors[0]}});
series.push({type:'line', name:'Half', data:[], symbol:'none', xAxisIndex:0, yAxisIndex:0,
  lineStyle:{color:colors[0], width:LW, type:[7,3]}, itemStyle:{color:colors[0]}});

for (let p = 0; p < 8; p++) {
  const r = Math.floor(p / 2), c = p % 2;
  const left = colLeft[c], top = rowTop[r];
  grids.push({left:left, top:top, width:colWidth[c], height:plotH, show:true,
    borderColor:'#000', borderWidth:1, backgroundColor:'transparent'});
  xAxes.push({type:'value', gridIndex:p, min:-30, max:30, interval:10,
    axisLine:{show:true, onZero:false, lineStyle:{color:'#000', width:1}},
    axisTick:{show:true, inside:false, length:5, lineStyle:{color:'#000'}},
    axisLabel:{fontSize:15, color:'#000', fontFamily:FONT, margin:14,
      formatter:v => (v < 0 ? '\u2212' + Math.abs(v) : String(v))},
    splitLine:{show:false},
    name:'Distance across slit ({i|\u03bc}m)', nameLocation:'middle', nameGap:38,
    nameTextStyle:{fontSize:15, color:'#000', fontFamily:FONT,
      rich:{i:{fontStyle:'italic', fontSize:15, fontFamily:FONT, color:'#000'}}}});
  yAxes.push({type:'value', gridIndex:p, min:-0.05, max:1.05,
    axisLine:{show:false}, axisTick:{show:false}, axisLabel:{show:false}, splitLine:{show:false},
    name:'Normalized Response', nameLocation:'middle', nameGap:10, nameRotate:90,
    nameTextStyle:{fontSize:15, color:'#000', fontFamily:FONT}});
  titles.push({text:wavelengths[r] + '{i|\u03bc}m SH Image (' + orients[c] + ')',
    left:left + colWidth[c] / 2, textAlign:'center', top:top - 35,
    textStyle:{fontSize:24, fontWeight:'normal', color:'#000', fontFamily:FONT,
      rich:{i:{fontStyle:'italic', fontSize:24, fontFamily:FONT, color:'#000'}}}});
  const legendCommon = {orient:'vertical', itemWidth:33, itemHeight:15, itemGap:9,
    backgroundColor:'rgba(255,255,255,0.8)', borderColor:'#cccccc', borderWidth:1, borderRadius:4,
    selectedMode:false, itemStyle:{opacity:0},
    textStyle:{fontSize:15, color:'#000', fontFamily:FONT, lineHeight:15, padding:[0,0,0,7]}};
  legends.push(Object.assign({}, legendCommon, {data:['Full','Half'], left:left + 6, top:top + 7,
    padding:[6,7,6,4]}));
  legends.push(Object.assign({}, legendCommon, {data:detectors.slice(), left:left + 527, top:top + 7,
    padding:[6,7,6,3]}));
  for (let d = 0; d < 6; d++) {
    series.push({type:'line', name:detectors[d], xAxisIndex:p, yAxisIndex:p,
      data:panelFull[p][d], symbol:'none', showSymbol:false, smooth:SMOOTH,
      lineStyle:{color:colors[d], width:LW}, itemStyle:{color:colors[d]}, z:2});
  }
  for (let d = 0; d < 6; d++) {
    series.push({type:'line', name:detectors[d] + ' half', xAxisIndex:p, yAxisIndex:p,
      data:panelHalf[p][d], symbol:'none', showSymbol:false, smooth:SMOOTH,
      lineStyle:{color:colors[d], width:LW, type:[7,3]}, itemStyle:{color:colors[d]}, z:2});
  }
}

const chart = echarts.init(document.getElementById('chart'), null, {renderer:'canvas'});
chart.setOption({
  animation:false,
  backgroundColor:'#fff',
  title:titles, grid:grids, xAxis:xAxes, yAxis:yAxes, legend:legends, series:series
});
</script>
</body>
</html>
